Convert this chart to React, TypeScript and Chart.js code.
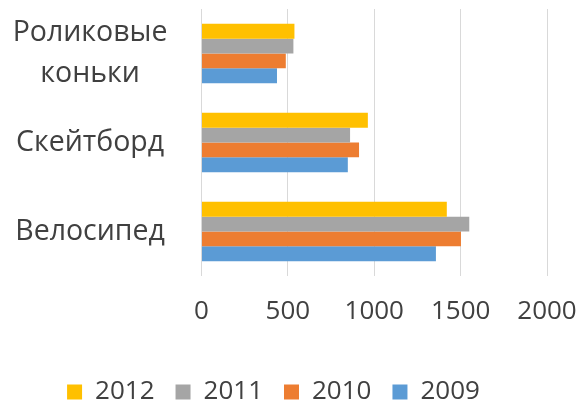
import React, { useEffect, useRef } from "react";
import { Chart, registerables } from "chart.js";

Chart.register(...registerables);

const categories: (string | string[])[] = [["Роликовые", "коньки"], "Скейтборд", "Велосипед"];
const seriesNames = ["2012", "2011", "2010", "2009"];
const values2012 = [538, 963, 1420];
const values2011 = [532, 860, 1550];
const values2010 = [488, 912, 1502];
const values2009 = [437, 847, 1357];
const xTicks = [0, 500, 1000, 1500, 2000];
const colors = ["#FFC000", "#A5A5A5", "#ED7D31", "#5B9BD5"];

const FONT = "'Open Sans', 'Noto Sans', sans-serif";
const TEXT = "#404040";

export default function App() {
  const ref = useRef<HTMLCanvasElement | null>(null);
  useEffect(() => {
    document.body.style.margin = "0";
    const all = [values2012, values2011, values2010, values2009];
    const chart = new Chart(ref.current!, {
      type: "bar",
      data: {
        labels: categories,
        datasets: seriesNames.map((n, i) => ({
          label: n,
          data: all[i],
          backgroundColor: colors[i],
          borderWidth: 0,
          categoryPercentage: 0.667,
          barPercentage: 1,
        })),
      },
      options: {
        indexAxis: "y",
        animation: false,
        responsive: false,
        devicePixelRatio: 1,
        layout: { padding: { top: 9, right: 36, bottom: -11, left: 0 } },
        plugins: {
          tooltip: { enabled: false },
          legend: {
            position: "bottom",
            labels: {
              font: { family: FONT, size: 26 },
              color: TEXT,
              boxWidth: 15,
              boxHeight: 15,
              padding: 21,
            },
          },
        },
        scales: {
          x: {
            min: 0,
            max: 2000,
            afterBuildTicks: (s: any) => {
              s.ticks = xTicks.map((v) => ({ value: v }));
            },
            afterFit: (s: any) => {
              s.height = 82;
              s.paddingLeft = 0;
              s.paddingRight = 0;
            },
            grid: { color: "#D9D9D9", drawTicks: false, lineWidth: 1 },
            border: { display: false },
            ticks: {
              font: { family: FONT, size: 26 },
              color: TEXT,
              padding: 20,
              maxRotation: 0,
              autoSkip: false,
              callback: (v: any) => String(v),
            },
          },
          y: {
            grid: { display: false, drawTicks: false },
            border: { display: false },
            afterFit: (s: any) => {
              s.width = 201.5;
              s.paddingTop = 0;
              s.paddingBottom = 0;
            },
            ticks: {
              font: { family: FONT, size: 28.5, lineHeight: 1.45 },
              color: TEXT,
              crossAlign: "center",
              padding: 34,
              autoSkip: false,
            },
          },
        },
      },
    } as any);
    return () => chart.destroy();
  }, []);
  return (
    <div style={{ position: "absolute", left: 0, top: 0, width: 583, height: 404, background: "#fff" }}>
      <canvas ref={ref} width={583} height={404} style={{ width: 583, height: 404 }} />
    </div>
  );
}
